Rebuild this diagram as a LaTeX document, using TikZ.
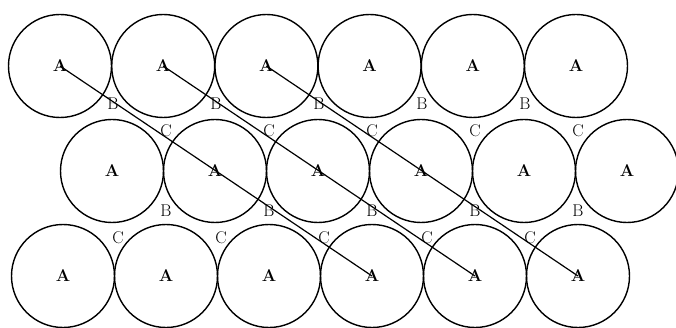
\documentclass[tikz,border=0pt]{standalone}
\usepackage{fix-cm}
\usepackage{tikz}

\begin{document}
\begin{tikzpicture}[x=1pt, y=-1pt,
	ball/.style={circle, draw, line width=1.4pt, minimum size=103pt, inner sep=0pt, font=\fontsize{17}{20}\selectfont\bfseries},
	gap/.style={inner sep=0pt, font=\fontsize{17}{20}\selectfont},
	diag/.style={line width=1.2pt}]

	\useasboundingbox (0,0) rectangle (676,328);

	% rows of spheres
	\foreach \i in {1,...,6} {
		\node[ball] (r1-\i) at ({60+103.2*(\i-1)},66) {A};
		\node[ball] (r2-\i) at ({112+103*(\i-1)},171) {A};
		\node[ball] (r3-\i) at ({63+103*(\i-1)},276) {A};
	}

	% holes between the rows
	\foreach \i in {1,...,5} {
		\node[gap] (b1-\i) at ({113+103*(\i-1)},104) {B};
		\node[gap] (c1-\i) at ({166+103*(\i-1)},131) {C};
		\node[gap] (b2-\i) at ({166+103*(\i-1)},211) {B};
		\node[gap] (c2-\i) at ({118+103*(\i-1)},238) {C};
	}

	\draw[diag]
	(r1-1.center) -- (r3-4.center)
	(r1-2.center) -- (r3-5.center)
	(r1-3.center) -- (r3-6.center);

\end{tikzpicture}
\end{document}
